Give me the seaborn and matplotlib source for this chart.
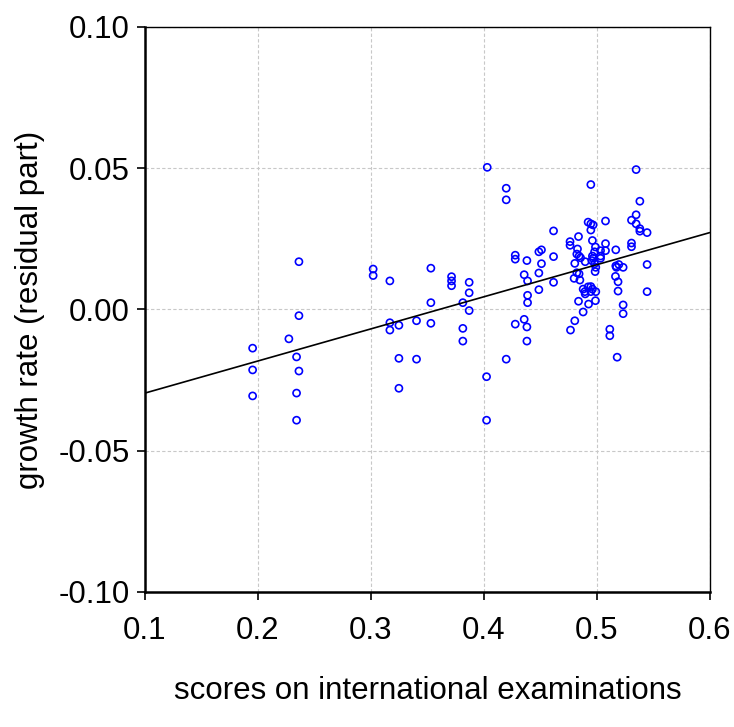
import matplotlib
matplotlib.use("Agg")
import matplotlib.pyplot as plt
import seaborn as sns
import pandas as pd

# scores vs residual growth
scores = [
    0.2363, 0.2363, 0.2274, 0.1953, 0.2342, 0.1953, 0.2363, 0.1953, 0.2342, 0.2342,
    0.3020, 0.3020, 0.3168, 0.3531, 0.3714, 0.3714, 0.3714, 0.3870, 0.3870, 0.3814,
    0.3870, 0.3531, 0.3168, 0.3168, 0.3248, 0.3404, 0.3531, 0.3814, 0.3814, 0.3248,
    0.3404, 0.3248, 0.4024, 0.4024,
    0.4030, 0.4198, 0.4198, 0.4617, 0.4278, 0.4278, 0.4381, 0.4487, 0.4510, 0.4510,
    0.4617, 0.4487, 0.4357, 0.4387, 0.4617, 0.4487, 0.4387, 0.4387, 0.4278, 0.4357,
    0.4381, 0.4381, 0.4198,
    0.5348, 0.4947, 0.5381, 0.5348, 0.5307, 0.5348, 0.5381, 0.5381, 0.5445, 0.5077,
    0.4923, 0.4947, 0.4967, 0.4947, 0.4838, 0.4763, 0.4763, 0.4961, 0.5077, 0.5307,
    0.5307, 0.4829, 0.4988, 0.4980, 0.5033, 0.5077, 0.4823, 0.4843, 0.4856, 0.4961,
    0.4967, 0.4956, 0.5033, 0.5033, 0.5168, 0.4897, 0.4805, 0.4980, 0.4991, 0.4985,
    0.5168, 0.5174, 0.5195, 0.5233, 0.5445, 0.4823, 0.4843, 0.4799, 0.4850, 0.5165,
    0.5188, 0.4879, 0.4894, 0.4923, 0.4947, 0.4961, 0.4947, 0.4991, 0.5188, 0.5445,
    0.4897, 0.4838, 0.4927, 0.4988, 0.5233, 0.5233, 0.4879, 0.4805, 0.4767, 0.5115,
    0.5115, 0.5180,
]
growth = [
    0.0169, -0.0022, -0.0104, -0.0137, -0.0168, -0.0214, -0.0218, -0.0306, -0.0296, -0.0392,
    0.0143, 0.0120, 0.0101, 0.0146, 0.0116, 0.0101, 0.0084, 0.0096, 0.0059, 0.0024,
    -0.0004, 0.0024, -0.0047, -0.0073, -0.0056, -0.0040, -0.0049, -0.0067, -0.0112, -0.0173,
    -0.0176, -0.0279, -0.0238, -0.0392,
    0.0503, 0.0429, 0.0388, 0.0278, 0.0192, 0.0178, 0.0173, 0.0204, 0.0211, 0.0162,
    0.0187, 0.0129, 0.0123, 0.0101, 0.0096, 0.0070, 0.0050, 0.0024, -0.0052, -0.0035,
    -0.0062, -0.0112, -0.0176,
    0.0495, 0.0442, 0.0383, 0.0335, 0.0316, 0.0303, 0.0286, 0.0277, 0.0272, 0.0313,
    0.0309, 0.0303, 0.0299, 0.0281, 0.0258, 0.0240, 0.0227, 0.0244, 0.0233, 0.0235,
    0.0222, 0.0214, 0.0221, 0.0204, 0.0208, 0.0208, 0.0196, 0.0189, 0.0183, 0.0189,
    0.0181, 0.0173, 0.0189, 0.0181, 0.0211, 0.0169, 0.0163, 0.0162, 0.0149, 0.0134,
    0.0154, 0.0149, 0.0159, 0.0149, 0.0159, 0.0130, 0.0126, 0.0110, 0.0104, 0.0117,
    0.0098, 0.0072, 0.0063, 0.0080, 0.0081, 0.0072, 0.0063, 0.0063, 0.0065, 0.0063,
    0.0055, 0.0029, 0.0019, 0.0031, 0.0016, -0.0015, -0.0009, -0.0040, -0.0073, -0.0070,
    -0.0093, -0.0169,
]

# fitted line end points
fit_x = [0.1, 0.6]
fit_y = [-0.0296, 0.0272]

x_ticks = [0.1, 0.2, 0.3, 0.4, 0.5, 0.6]
y_ticks = [-0.10, -0.05, 0.00, 0.05, 0.10]

df = pd.DataFrame({"score": scores, "growth": growth})
line_df = pd.DataFrame({"score": fit_x, "growth": fit_y})

sns.set_style("ticks")
plt.rcParams["font.family"] = ["Liberation Sans", "DejaVu Sans"]

fig = plt.figure(figsize=(7.34, 7.27), dpi=100)
ax = fig.add_axes([0.1975, 0.1857, 0.7695, 0.7773])

sns.scatterplot(data=df, x="score", y="growth", ax=ax, marker="o",
                facecolors="none", edgecolor="blue", linewidth=1.2, s=26, zorder=3)
sns.lineplot(data=line_df, x="score", y="growth", ax=ax, color="black",
             linewidth=1.2, zorder=4)

ax.set_xlim(0.1, 0.6)
ax.set_ylim(-0.1, 0.1)
ax.set_xticks(x_ticks)
ax.set_yticks(y_ticks)
ax.set_xticklabels([f"{v:.1f}" for v in x_ticks])
ax.set_yticklabels([f"{v:.2f}" for v in y_ticks])
ax.grid(True, linestyle=(0, (3, 2)), color="#c8c8c8", linewidth=0.8)
ax.set_axisbelow(True)

for side in ["left", "bottom"]:
    ax.spines[side].set_linewidth(1.8)
for side in ["top", "right"]:
    ax.spines[side].set_linewidth(1.0)
    ax.spines[side].set_visible(True)
for sp in ax.spines.values():
    sp.set_color("black")

ax.tick_params(axis="both", direction="out", length=6, width=1.2, labelsize=22.5,
               colors="black", pad=5)
ax.tick_params(axis="x", pad=11)
ax.set_xlabel("scores on international examinations", fontsize=22.5,
              labelpad=22, color="black")
ax.set_ylabel("growth rate (residual part)", fontsize=22.5, labelpad=10,
              color="black")

fig.savefig("out.png", dpi=100)
